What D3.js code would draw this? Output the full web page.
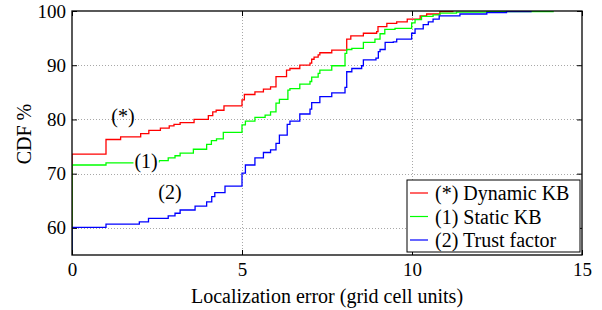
<!DOCTYPE html>
<html>
<head>
<meta charset="utf-8">
<script src="https://cdn.jsdelivr.net/npm/d3@7"></script>
<style>
  body { margin: 0; background: #fff; }
  svg { display: block; }
  svg text { font-family: "Liberation Serif", "Times New Roman", Times, "DejaVu Serif", serif !important; fill: #000; }
</style>
</head>
<body>
<div id="chart"></div>
<script>
// step points (x = error, y = CDF %)
const dynX = [0, 1.0, 1.43, 2.02, 2.26, 2.6, 2.86, 3.0, 3.18, 3.59, 4.01, 4.14, 4.24, 4.47, 5.0, 5.07, 5.38, 5.63, 5.84, 6.0, 6.31, 6.41, 6.7, 7.0, 7.05, 7.12, 7.24, 7.29, 7.64, 8.08, 8.2, 8.57, 8.96, 9.0, 9.26, 9.55, 9.86, 10.24, 10.43, 10.82, 11.2];
const dynY = [73.6, 76.3, 76.8, 77.4, 78.0, 78.4, 78.8, 79.1, 79.4, 80.0, 80.7, 81.4, 81.7, 82.5, 83.6, 84.6, 85.1, 85.6, 86.0, 87.9, 89.1, 89.4, 90.0, 90.4, 91.1, 91.5, 91.9, 92.3, 92.8, 94.8, 95.4, 95.9, 96.2, 97.1, 97.7, 98.0, 98.5, 99.1, 99.45, 99.9, 100];

const statX = [0, 1.0, 1.9, 2.56, 2.83, 3.03, 3.18, 3.57, 3.96, 4.1, 4.25, 4.45, 5.0, 5.1, 5.38, 5.68, 5.84, 6.0, 6.1, 6.35, 6.41, 6.7, 7.0, 7.05, 7.24, 7.29, 7.64, 8.03, 8.08, 8.23, 8.57, 8.91, 9.06, 9.2, 9.5, 9.99, 10.09, 10.28, 10.62, 10.82, 11.31, 12.2, 14.15];
const statY = [71.6, 72.0, 72.2, 72.4, 72.9, 73.3, 73.8, 74.5, 75.4, 76.1, 76.4, 77.6, 79.0, 79.7, 80.4, 80.8, 81.4, 83.0, 83.7, 85.4, 85.7, 86.5, 87.0, 87.8, 88.5, 89.1, 89.9, 92.2, 92.9, 93.1, 94.2, 94.8, 95.8, 96.6, 96.8, 97.8, 98.4, 99.0, 99.3, 99.6, 99.8, 99.9, 100];

const trustX = [0, 1.0, 1.98, 2.25, 2.83, 3.03, 3.18, 3.62, 3.96, 4.11, 4.2, 4.5, 5.0, 5.1, 5.38, 5.63, 5.84, 6.0, 6.1, 6.33, 6.41, 6.7, 7.0, 7.05, 7.29, 7.64, 8.03, 8.08, 8.23, 8.52, 8.57, 8.94, 9.01, 9.06, 9.21, 9.45, 9.55, 9.99, 10.09, 10.33, 10.48, 10.62, 10.8, 11.41, 12.2, 12.78, 13.5];
const trustY = [60.1, 60.7, 61.1, 61.75, 62.2, 62.7, 63.3, 64.0, 64.8, 65.75, 66.5, 67.7, 70.1, 71.6, 72.9, 73.9, 74.4, 75.6, 77.1, 79.1, 79.7, 81.0, 81.9, 83.1, 84.2, 84.9, 85.9, 88.8, 89.4, 89.9, 91.0, 91.3, 92.5, 92.9, 94.2, 94.3, 94.8, 95.9, 96.7, 97.5, 98.0, 98.5, 99.1, 99.45, 99.7, 99.9, 100];

const seriesNames = ['(*) Dynamic KB', '(1) Static KB', '(2) Trust factor'];
const seriesColors = ['#ff0000', '#00ff00', '#0000ff'];

const xTicks = [0, 5, 10, 15];
const yTicks = [60, 70, 80, 90, 100];

// in-plot annotations: [label, x, y]
const notes = [['(*)', 1.5, 80.6], ['(1)', 2.18, 72.4], ['(2)', 2.88, 66.7]];

const W = 602, H = 310;
const margin = {left: 72, right: 20, top: 11, bottom: 55};
const serif = '"Liberation Serif", "Times New Roman", Times, "DejaVu Serif", serif';

const svg = d3.select('#chart').append('svg').attr('width', W).attr('height', H)
    .attr('font-family', serif);

const x = d3.scaleLinear().domain([0, 15]).range([margin.left, W - margin.right]);
const y = d3.scaleLinear().domain([55, 100]).range([H - margin.bottom, margin.top]);

svg.append('defs').append('clipPath').attr('id', 'plot')
    .append('rect')
    .attr('x', x(0)).attr('y', y(100) - 1)
    .attr('width', x(15) - x(0) + 1).attr('height', y(55) - y(100) + 1);

// dotted grid
const grid = svg.append('g').attr('stroke', '#a8a8a8').attr('stroke-dasharray', '1,2').attr('stroke-width', 1);
for (const t of [5, 10]) {
    grid.append('line').attr('x1', Math.round(x(t)) + 0.5).attr('x2', Math.round(x(t)) + 0.5)
        .attr('y1', y(55)).attr('y2', y(100));
}
for (const t of [60, 70, 80, 90]) {
    grid.append('line').attr('y1', Math.round(y(t)) + 0.5).attr('y2', Math.round(y(t)) + 0.5)
        .attr('x1', x(0)).attr('x2', x(15));
}

// stair curves
const stair = d3.line().x(d => x(d[0])).y(d => y(d[1])).curve(d3.curveStepAfter);
const allX = [dynX, statX, trustX];
const allY = [dynY, statY, trustY];
const curves = svg.append('g').attr('clip-path', 'url(#plot)');
allX.forEach((xs, i) => {
    const pts = [[0, 0]].concat(xs.map((v, j) => [v, allY[i][j]]));
    curves.append('path')
        .attr('d', stair(pts))
        .attr('fill', 'none')
        .attr('stroke', seriesColors[i])
        .attr('stroke-width', 1.3);
});

// annotations, (1) sits on a white patch over the green line
for (const n of notes) {
    const g = svg.append('g').attr('transform', `translate(${x(n[1])},${y(n[2])})`);
    const t = g.append('text').attr('text-anchor', 'middle').attr('dy', '0.35em')
        .style('font-size', '20px').text(n[0]);
    if (n[0] === '(1)') {
        const bb = t.node().getBBox();
        g.insert('rect', 'text').attr('x', bb.x - 1).attr('y', bb.y).attr('width', bb.width + 2)
            .attr('height', bb.height).attr('fill', '#fff');
    }
}

// axes box and inward ticks
const tickLen = 5;
const axisG = svg.append('g');
axisG.append('g').attr('transform', `translate(0,${y(55)})`)
    .call(d3.axisBottom(x).tickValues(xTicks).tickSizeInner(-tickLen).tickSizeOuter(0).tickPadding(8));
axisG.append('g').attr('transform', `translate(0,${y(100)})`)
    .call(d3.axisTop(x).tickValues(xTicks).tickSizeInner(-tickLen).tickSizeOuter(0).tickFormat(''));
axisG.append('g').attr('transform', `translate(${x(0)},0)`)
    .call(d3.axisLeft(y).tickValues(yTicks).tickSizeInner(-tickLen).tickSizeOuter(0).tickPadding(6));
axisG.append('g').attr('transform', `translate(${x(15)},0)`)
    .call(d3.axisRight(y).tickValues(yTicks).tickSizeInner(-tickLen).tickSizeOuter(0).tickFormat(''));
axisG.selectAll('g').attr('font-family', serif);
axisG.selectAll('.domain').remove();
axisG.selectAll('.tick line').attr('stroke', '#000');
axisG.selectAll('.tick text').style('font-size', '19px');
svg.append('rect')
    .attr('x', x(0)).attr('y', y(100))
    .attr('width', x(15) - x(0)).attr('height', y(55) - y(100))
    .attr('fill', 'none').attr('stroke', '#000').attr('stroke-width', 1.3);

// axis titles
svg.append('text').attr('x', (x(0) + x(15)) / 2).attr('y', 303)
    .attr('text-anchor', 'middle').style('font-size', '20px')
    .text('Localization error (grid cell units)');
svg.append('text').attr('transform', 'translate(31,134) rotate(-90)')
    .attr('text-anchor', 'middle').style('font-size', '20px')
    .text('CDF %');

// legend
const lg = svg.append('g').attr('transform', 'translate(407,180)');
lg.append('rect').attr('width', 173).attr('height', 72)
    .attr('fill', '#fff').attr('stroke', '#000').attr('stroke-width', 1);
seriesNames.forEach((name, i) => {
    const cy = 13 + i * 23.5;
    lg.append('line').attr('x1', 3).attr('x2', 21).attr('y1', cy).attr('y2', cy)
        .attr('stroke', seriesColors[i]).attr('stroke-width', 1.2);
    lg.append('text').attr('x', 28).attr('y', cy).attr('dy', '0.35em')
        .style('font-size', '20px').text(name);
});
</script>
</body>
</html>
